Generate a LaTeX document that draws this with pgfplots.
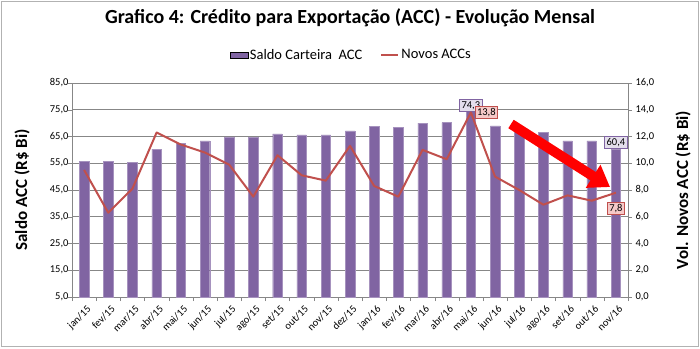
\documentclass[border=0pt]{standalone}
\usepackage{pgfplots}
\pgfplotsset{compat=1.18}
\usepackage{fontspec}
\setmainfont{Carlito}
\usetikzlibrary{arrows.meta}
\definecolor{barpurple}{HTML}{8064A2}
\definecolor{linered}{HTML}{C0504D}
\definecolor{gridgray}{HTML}{878787}
\definecolor{lavbox}{HTML}{E4DFEC}
\definecolor{pinkbox}{HTML}{F6C9C8}
\pgfplotstableread{
x saldo novos
0 55.6 9.5
1 55.6 6.3
2 55.3 8.1
3 60.3 12.3
4 62.5 11.4
5 63.4 10.8
6 64.9 9.9
7 64.8 7.5
8 66.0 10.6
9 65.6 9.1
10 65.6 8.7
11 67.1 11.3
12 68.7 8.3
13 68.4 7.5
14 70.0 11.0
15 70.2 10.3
16 74.3 13.8
17 69.0 9.0
18 67.4 8.0
19 66.5 6.9
20 63.4 7.6
21 63.4 7.2
22 60.4 7.8
}\datatable
\begin{document}
\begin{tikzpicture}[x=1pt,y=1pt]
\path[use as bounding box] (0,0) rectangle (700,348);
\draw[gray!60, line width=1.2pt] (1.5,1.5) rectangle (698.5,346.5);
\node[font=\fontsize{20}{22}\selectfont\bfseries] at (350,330) {Grafico 4: Crédito para Exportação (ACC) - Evolução Mensal};
\node[font=\fontsize{17}{19}\selectfont\bfseries, rotate=90] at (22,158) {Saldo ACC (R\$ Bi)};
\node[font=\fontsize{17}{19}\selectfont\bfseries, rotate=90] at (683,158) {Vol. Novos ACC (R\$ Bi)};
\pgfplotsset{
  common/.style={
    at={(72pt,51pt)}, anchor=south west, scale only axis,
    width=556pt, height=214pt,
    xmin=-0.5, xmax=22.5,
    /pgf/number format/.cd, use comma, fixed, fixed zerofill, precision=1, assume math mode=true,
    /pgfplots/.cd,
    ticklabel style={font=\fontsize{10.5}{12}\selectfont},
    axis line style={gridgray},
    tick style={gridgray},
  }
}
\begin{axis}[common,
  ymin=5, ymax=85, ytick={5,15,...,85},
  axis x line*=bottom, axis y line*=left,
  ymajorgrids, grid style={gridgray, line width=0.6pt},
  xtick={0,...,22},
  xticklabels={jan/15,fev/15,mar/15,abr/15,mai/15,jun/15,jul/15,ago/15,set/15,out/15,nov/15,dez/15,jan/16,fev/16,mar/16,abr/16,mai/16,jun/16,jul/16,ago/16,set/16,out/16,nov/16},
  xticklabel style={rotate=45, anchor=north east, inner sep=1pt, yshift=-3pt},
  yticklabel style={xshift=4pt},
  major x tick style={draw=none},
  minor xtick={-0.5,0.5,...,22.5},
  minor tick length=4pt,
  major tick length=4pt,
  tick align=outside,
  ybar, bar width=9.5pt,
]
\addplot[fill=barpurple, draw=barpurple!70!white, line width=0.4pt] table[x=x, y=saldo] {\datatable};
\node[draw=barpurple, fill=lavbox, font=\fontsize{10.5}{12}\selectfont, inner sep=2pt, anchor=south] at (axis cs:16,74.3) {74,3};
\node[draw=barpurple, fill=lavbox, font=\fontsize{10.5}{12}\selectfont, inner sep=2pt, anchor=south] at (axis cs:22,60.4) {60,4};
\end{axis}
\begin{axis}[common,
  ymin=0, ymax=16, ytick={0,2,...,16},
  axis y line*=right, axis x line=none,
  tick align=outside, major tick length=4pt,
  legend style={at={(0.503,1.131)}, anchor=center, draw=none, fill=none,
     legend columns=2, font=\fontsize{14.5}{16}\selectfont,
     /tikz/every even column/.append style={column sep=16pt}},
]
\addlegendimage{area legend, fill=barpurple, draw=none}
\addlegendentry{Saldo Carteira\ \ ACC}
\addplot[linered, line width=2pt, line join=round] table[x=x, y=novos] {\datatable};
\addlegendentry{Novos ACCs}
\node[draw=linered, fill=pinkbox, font=\fontsize{10.5}{12}\selectfont, inner sep=2pt, anchor=west, xshift=4pt] at (axis cs:16,13.8) {13,8};
\node[draw=linered, fill=pinkbox, font=\fontsize{10.5}{12}\selectfont, inner sep=2pt, anchor=north, yshift=-9pt] at (axis cs:22,7.8) {7,8};
\end{axis}
\draw[red, line width=10pt, -{Triangle[length=20pt,width=26pt]}] (511,224) -- (610,161);
\end{tikzpicture}
\end{document}
